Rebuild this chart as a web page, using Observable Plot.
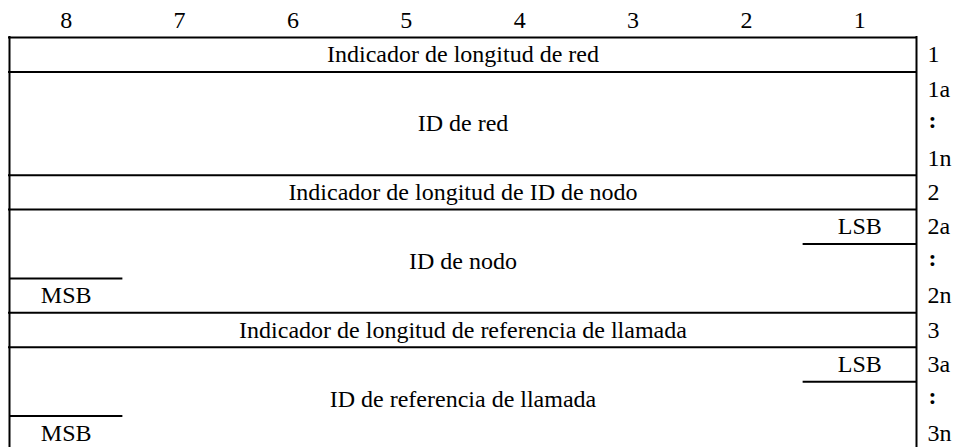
<!DOCTYPE html>
<html>
<head>
<meta charset="utf-8">
<script src="https://cdn.jsdelivr.net/npm/d3@7"></script>
<script src="https://cdn.jsdelivr.net/npm/@observablehq/plot@0.6"></script>
<style>
  html, body { margin: 0; padding: 0; background: #fff; overflow: hidden; }
  #chart svg { display: block; }
</style>
</head>
<body>
<div id="chart"></div>
<script>
// Bit numbers across the top (bit 8 .. bit 1)
const bitLabels = ["8", "7", "6", "5", "4", "3", "2", "1"];

// Fields of the parameter, with the octet range (start inclusive, end exclusive)
const fieldNames = [
  "Indicador de longitud de red",
  "ID de red",
  "Indicador de longitud de ID de nodo",
  "ID de nodo",
  "Indicador de longitud de referencia de llamada",
  "ID de referencia de llamada"
];
const fieldStart = [0, 1, 4, 5, 8, 9];
const fieldEnd   = [1, 4, 5, 8, 9, 12];

// Octet labels at the right, one per octet row
const octetLabels = ["1", "1a", ":", "1n", "2", "2a", ":", "2n", "3", "3a", ":", "3n"];

// Octets carrying the LSB / MSB markers
const lsbOctets = [5, 9];
const msbOctets = [7, 11];

const fields = fieldNames.map((name, i) => ({name, start: fieldStart[i], end: fieldEnd[i]}));
const boundaries = Array.from(new Set(fields.flatMap(f => [f.start, f.end])));

const font = "Liberation Serif";
const fs = 24;

const chart = Plot.plot({
  width: 954,
  height: 450,
  marginTop: 37,
  marginBottom: 0,
  marginLeft: 9,
  marginRight: 38,
  x: {domain: [0, 8], axis: null},
  y: {domain: [0, 12], axis: null, reverse: true},
  style: {background: "#fff", color: "#000"},
  marks: [
    Plot.ruleY(boundaries, {x1: 0, x2: 8, stroke: "#000", strokeWidth: 2, strokeLinecap: "square"}),
    Plot.ruleX([0, 8], {y1: 0, y2: 12, stroke: "#000", strokeWidth: 2, strokeLinecap: "square"}),
    Plot.ruleY(lsbOctets, {y: d => d + 1, x1: 7, x2: 8, stroke: "#000", strokeWidth: 2}),
    Plot.ruleY(msbOctets, {y: d => d, x1: 0, x2: 1, stroke: "#000", strokeWidth: 2}),
    Plot.text(fields, {x: 4, y: d => (d.start + d.end) / 2, text: "name", fontSize: fs, fontFamily: font, fill: "#000"}),
    Plot.text(bitLabels, {x: (d, i) => i + 0.5, y: -0.5, text: d => d, fontSize: fs, fontFamily: font, fill: "#000"}),
    Plot.text(octetLabels, {filter: d => d !== ":", x: 8, y: (d, i) => i + 0.5, text: d => d, dx: 11, textAnchor: "start", fontSize: fs, fontFamily: font, fill: "#000"}),
    Plot.text(octetLabels, {filter: d => d === ":", x: 8, y: (d, i) => i + 0.5, text: d => d, dx: 12, dy: -3, textAnchor: "start", fontSize: fs, fontWeight: "bold", fontFamily: font, fill: "#000"}),
    Plot.text(lsbOctets, {x: 7.5, y: d => d + 0.5, text: () => "LSB", fontSize: fs, fontFamily: font, fill: "#000"}),
    Plot.text(msbOctets, {x: 0.5, y: d => d + 0.5, text: () => "MSB", fontSize: fs, fontFamily: font, fill: "#000"})
  ]
});
document.getElementById("chart").appendChild(chart);
</script>
</body>
</html>
